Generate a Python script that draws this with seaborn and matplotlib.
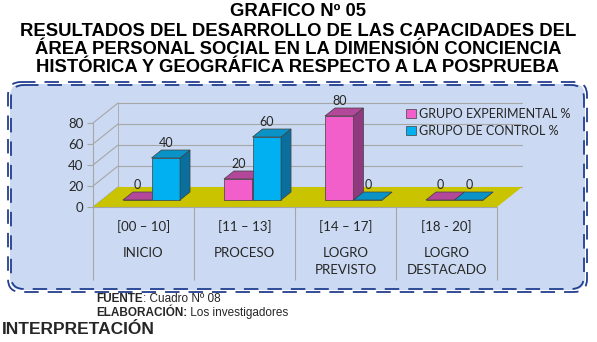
import numpy as np
import pandas as pd
import matplotlib.pyplot as plt
import matplotlib.transforms as mtransforms
from matplotlib.patches import Polygon, FancyBboxPatch, Patch
import seaborn as sns

ranges = ['[00 – 10]', '[11 – 13]', '[14 – 17]', '[18 - 20]']
levels = ['INICIO', 'PROCESO', 'LOGRO\nPREVISTO', 'LOGRO\nDESTACADO']
groups = ['GRUPO EXPERIMENTAL %', 'GRUPO DE CONTROL %']
experimental = [0, 20, 80, 0]
control = [40, 60, 0, 0]
y_ticks = [0, 20, 40, 60, 80]

df = pd.DataFrame({
    'rango': ranges * 2,
    'grupo': [groups[0]] * len(ranges) + [groups[1]] * len(ranges),
    'valor': experimental + control,
})

W, H = 597, 342
sns.set_theme(style='white')
plt.rcParams['font.family'] = ['Lato', 'DejaVu Sans']
arial = ['Liberation Sans', 'DejaVu Sans']

pink, blue = '#f25fcb', '#00b0f0'
pink_top, pink_side = '#b3479a', '#8f3a7e'
blue_top, blue_side = '#0a93c6', '#0a6f9c'
grid_c = '#a6a6a6'
floor_c = '#c9c300'

fig = plt.figure(figsize=(W / 100, H / 100), dpi=100)

# background canvas in pixel coords
bg = fig.add_axes([0, 0, 1, 1], zorder=-5)
bg.set_xlim(0, W)
bg.set_ylim(H, 0)
bg.axis('off')
bg.add_patch(FancyBboxPatch((10, 84), 575, 206, boxstyle='round,pad=0,rounding_size=12',
                            facecolor='#cbdaf2', edgecolor='none'))
for inset in (0, 3):
    bg.add_patch(FancyBboxPatch((8 + inset, 82 + inset), 579 - 2 * inset, 210 - 2 * inset,
                                boxstyle='round,pad=0,rounding_size=13',
                                facecolor='none', edgecolor='#233f8f', lw=1.3,
                                linestyle=(0, (8, 5))))

title_font = dict(family=arial, fontweight='bold', fontsize=13.3,
                  ha='center', va='center', color='black')
bg.text(298, 12, 'GRAFICO Nº 05', **title_font)
bg.text(298, 31, 'RESULTADOS DEL DESARROLLO DE LAS CAPACIDADES DEL', **title_font)
bg.text(298, 49, 'ÁREA PERSONAL SOCIAL EN LA DIMENSIÓN CONCIENCIA', **title_font)
bg.text(298, 67, 'HISTÓRICA Y GEOGRÁFICA RESPECTO A LA POSPRUEBA', **title_font)

# footer: bold label followed by normal text
for yy, bold, rest in [(299, 'FUENTE', ': Cuadro Nº 08'), (313, 'ELABORACIÓN:', ' Los investigadores')]:
    t = bg.text(96, yy, bold, family=arial, fontweight='bold', fontsize=8.5, va='center')
    bg.annotate(rest, xy=(1, 0.5), xycoords=t, va='center', ha='left',
                family=arial, fontsize=8.5)
bg.text(2, 330, 'INTERPRETACIÓN', family=arial, fontweight='bold', fontsize=12.5, va='center')

# front plane of the chart
x_left, x_right, y_zero, y_top = 93, 497, 207, 123
ax = fig.add_axes([x_left / W, 1 - y_zero / H, (x_right - x_left) / W, (y_zero - y_top) / H])
ax.set_facecolor('none')

sns.barplot(data=df, x='rango', y='valor', hue='grupo', palette=[pink, blue],
            width=0.565, ax=ax, edgecolor='#404040', linewidth=0.5, legend=False,
            saturation=1, errorbar=None)
ax.set_xlim(-0.5, len(ranges) - 0.5)
ax.set_ylim(0, 80)

px_x = (x_right - x_left) / len(ranges)
px_y = (y_zero - y_top) / 80.0

# depth of walls and bars (pixels -> data units)
wx, wy = 25 / px_x, 20 / px_y
bx, by = 10 / px_x, 8 / px_y
bar_shift = mtransforms.ScaledTranslation(8 / 100, 7 / 100, fig.dpi_scale_trans)
tr_bar = ax.transData + bar_shift

# back wall grid and left wall diagonals
x0w, x1w = -0.5, len(ranges) - 0.5
for v in y_ticks:
    ax.plot([x0w + wx, x1w + wx], [v + wy, v + wy], color=grid_c, lw=0.8, clip_on=False, zorder=0.5)
    ax.plot([x0w, x0w + wx], [v, v + wy], color=grid_c, lw=0.8, clip_on=False, zorder=0.5)
ax.plot([x0w + wx, x0w + wx], [wy, 80 + wy], color=grid_c, lw=0.6, clip_on=False, zorder=0.5)

# floor
ax.add_patch(Polygon([(x0w, 0), (x1w, 0), (x1w + wx, wy), (x0w + wx, wy)], closed=True,
                     facecolor=floor_c, edgecolor='none', clip_on=False, zorder=1))

tops = [(pink_top, pink_side), (blue_top, blue_side)]
for k, cont in enumerate(ax.containers):
    for i, bar in enumerate(cont):
        z = 2 + i * 2 + k
        x0, w, h = bar.get_x(), bar.get_width(), bar.get_height()
        bar.set_transform(tr_bar)
        bar.set_clip_on(False)
        bar.set_zorder(z)
        top_c, side_c = tops[k]
        side = Polygon([(x0 + w, 0), (x0 + w + bx, by), (x0 + w + bx, h + by), (x0 + w, h)],
                       closed=True, facecolor=side_c, edgecolor='#404040', lw=0.5,
                       transform=tr_bar, clip_on=False, zorder=z)
        top = Polygon([(x0, h), (x0 + bx, h + by), (x0 + w + bx, h + by), (x0 + w, h)],
                      closed=True, facecolor=top_c, edgecolor='#404040', lw=0.5,
                      transform=tr_bar, clip_on=False, zorder=z)
        ax.add_patch(side)
        ax.add_patch(top)
        lab_tr = tr_bar + mtransforms.ScaledTranslation(0, 7 / 100, fig.dpi_scale_trans)
        ax.text(x0 + w / 2, h + by, f'{h:.0f}', transform=lab_tr, ha='center', va='center',
                fontsize=9, color='#262626', zorder=20)

# axes styling
for s in ['top', 'right']:
    ax.spines[s].set_visible(False)
for s in ['left', 'bottom']:
    ax.spines[s].set_color(grid_c)
    ax.spines[s].set_linewidth(0.8)
    ax.spines[s].set_zorder(1.5)
ax.set_yticks(y_ticks)
ax.set_yticklabels([str(v) for v in y_ticks], fontsize=9.5, color='#262626')
ax.tick_params(axis='y', length=4, width=0.8, color=grid_c, pad=3, left=True)
ax.set_xticks([])
ax.set_xlabel('')
ax.set_ylabel('')

# category separators and labels below the floor
xt = ax.get_xaxis_transform()
ax.vlines(np.arange(len(ranges) + 1) - 0.5, -73 / 84, 0, transform=xt, color=grid_c,
          lw=0.8, clip_on=False)
for i, (r, lv) in enumerate(zip(ranges, levels)):
    ax.text(i, -20 / 84, r, transform=xt, ha='center', va='center', fontsize=9.5, color='#262626')
    ax.text(i, -40 / 84, lv, transform=xt, ha='center', va='top', fontsize=9.5,
            color='#262626', linespacing=1.45)

handles = [Patch(facecolor=pink, edgecolor='#404040', lw=0.5),
           Patch(facecolor=blue, edgecolor='#404040', lw=0.5)]
ax.legend(handles, groups, loc='upper left', bbox_to_anchor=(400 / W, 1 - 102 / H),
          bbox_transform=fig.transFigure, frameon=False, fontsize=9, handlelength=0.75,
          handleheight=0.75, handletextpad=0.3, labelspacing=0.35, borderpad=0)

fig.savefig('out.png', dpi=100)
